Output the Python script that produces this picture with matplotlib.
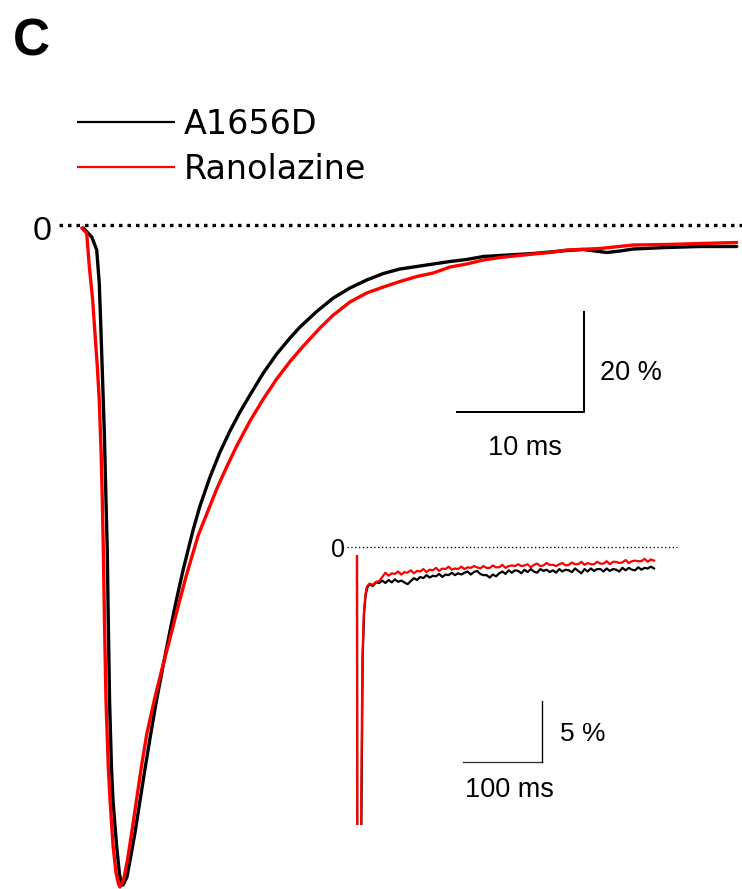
import numpy as np
import matplotlib
matplotlib.use("Agg")
import matplotlib.pyplot as plt

# --- main traces (time in ms from pulse start, current in %) ---
a1656d_t = [0.02, 0.69, 1.08, 1.28, 1.42, 1.55, 1.68, 1.81, 1.91, 1.99, 2.09,
            2.24, 2.36, 2.64, 2.87, 3.03, 3.15, 3.46, 3.78, 4.09, 4.88, 5.28,
            5.75, 6.32, 6.85, 7.32, 7.90, 8.69, 9.21, 10.0, 10.79,
            11.57, 12.36, 13.15, 14.20, 15.25, 16.30, 17.09, 18.40, 19.71,
            21.02, 22.34, 23.65, 24.96, 26.28, 27.58, 28.90, 30.21, 31.52,
            32.83, 35.46, 38.09, 39.37, 41.26, 42.28, 43.33, 45.96, 48.58,
            51.47]
a1656d_i = [-0.6, -2.4, -5.0, -11.6, -21.6, -31.6, -41.6, -55.0, -65.0,
            -79.0, -95.0, -108.4, -115.0, -124.0, -129.8, -131.6, -132.0,
            -130.4, -126.0, -121.6, -108.8, -102.6, -95.6, -88.0, -81.2,
            -75.4, -68.8, -60.8, -56.2, -50.4, -45.4, -41.2, -37.4, -34.0,
            -29.6, -25.8, -22.6, -20.4, -17.3, -14.6, -12.6, -11.0, -9.7,
            -8.8, -8.3, -7.8, -7.3, -6.9, -6.3, -6.1, -5.7, -5.1, -4.9,
            -5.5, -5.2, -4.8, -4.5, -4.3, -4.3]

rano_t = [-0.10, 0.29, 0.50, 0.76, 0.94, 1.13, 1.28, 1.42, 1.52, 1.60, 1.69,
          1.81, 1.99, 2.13, 2.36, 2.60, 2.80, 2.91, 3.19, 3.50, 3.83, 4.62,
          5.02, 5.67, 6.32, 6.98, 7.50, 8.17, 9.08, 10.53, 11.31, 12.10,
          13.15, 14.20, 15.25, 16.30, 17.35, 18.66, 19.71, 21.02, 22.34,
          23.65, 24.96, 26.28, 27.58, 28.90, 30.21, 31.52, 32.83, 35.46,
          36.77, 38.09, 40.71, 43.33, 45.96, 48.58, 51.47]
rano_i = [-0.6, -1.6, -8.4, -15.0, -21.6, -28.4, -35.0, -45.0, -55.0, -65.0,
          -79.0, -95.0, -108.4, -115.0, -124.0, -129.6, -131.8, -132.4,
          -131.0, -127.0, -121.6, -108.0, -101.8, -94.4, -87.8, -81.4, -76.2,
          -69.8, -62.0, -52.8, -48.4, -44.2, -39.2, -34.8, -30.8, -27.3,
          -24.2, -20.6, -18.0, -15.4, -13.6, -12.4, -11.3, -10.3, -9.6, -8.4,
          -7.8, -7.0, -6.5, -5.8, -5.5, -5.0, -4.7, -4.0, -3.9, -3.7, -3.5]

# --- inset (long time scale) ---
# fast spike part
ins_a_spike_t = [0.0, 1.6, 3.4, 5.4, 7.2, 9.0, 11.0, 13.0]
ins_a_spike_i = [-0.8, -132.0, -132.0, -24.0, -9.0, -5.5, -4.0, -3.4]
ins_r_spike_t = [0.0, 1.4, 3.0, 5.0, 6.8, 8.6, 10.5, 12.5]
ins_r_spike_i = [-0.8, -132.0, -132.0, -24.0, -9.5, -5.6, -4.0, -3.3]

# slow plateau, sampled every 4 ms starting at 16 ms
ins_t0, ins_dt = 16.0, 4.0
ins_a_plateau = [
    -3.10, -3.25, -2.95, -3.00, -2.80, -3.00, -2.75, -2.95, -2.70, -2.90,
    -2.80, -2.95, -3.10, -2.85, -2.60, -2.75, -2.50, -2.60, -2.35, -2.55,
    -2.40, -2.45, -2.25, -2.50, -2.30, -2.35, -2.15, -2.35, -2.20, -2.30,
    -2.15, -2.05, -2.30, -2.10, -2.00, -2.25, -2.35, -2.35, -2.55, -2.30,
    -2.45, -2.20, -2.05, -2.25, -1.95, -2.15, -1.95, -2.00, -2.20, -1.90,
    -2.10, -1.85, -2.05, -2.15, -1.85, -2.00, -1.90, -2.10, -1.95, -2.15,
    -1.85, -2.05, -1.90, -1.95, -2.10, -1.80, -2.00, -2.20, -1.85, -2.05,
    -1.80, -2.00, -1.85, -1.85, -2.05, -1.80, -2.00, -1.85, -1.90, -2.05,
    -1.75, -1.95, -1.75, -1.90, -1.95, -1.70, -1.90, -1.75, -1.80, -1.65,
    -1.80]
ins_r_plateau = [
    -3.05, -3.15, -2.90, -2.85, -2.50, -2.15, -2.40, -2.20, -2.25, -2.05,
    -2.30, -2.10, -2.15, -1.95, -2.20, -2.00, -2.05, -1.85, -2.10, -1.90,
    -1.95, -1.75, -2.00, -1.80, -1.85, -1.65, -1.90, -1.80, -1.85, -1.65,
    -1.85, -1.70, -1.75, -1.60, -1.70, -1.80, -1.60, -1.75, -1.75, -1.55,
    -1.70, -1.70, -1.50, -1.75, -1.60, -1.55, -1.60, -1.45, -1.60, -1.55,
    -1.45, -1.70, -1.50, -1.40, -1.60, -1.55, -1.35, -1.50, -1.50, -1.60,
    -1.45, -1.35, -1.55, -1.50, -1.30, -1.45, -1.45, -1.25, -1.50, -1.35,
    -1.45, -1.45, -1.25, -1.40, -1.40, -1.20, -1.45, -1.25, -1.25, -1.35,
    -1.30, -1.10, -1.35, -1.20, -1.15, -1.20, -1.20, -1.00, -1.25, -1.05,
    -1.15]

labels = ["A1656D", "Ranolazine"]
colors = ["black", "#ff0000"]

W, H = 742, 889
fig = plt.figure(figsize=(W / 100, H / 100), dpi=100)

# main axes spans whole figure, 1 ms = 12.7 px, 1 % = 5 px
ax = fig.add_axes([0, 0, 1, 1])
ax.set_xlim(-83 / 12.7, (W - 83) / 12.7)
ax.set_ylim((225 - H) / 5.0, 225 / 5.0)
ax.axis("off")

lw_main = 2.4
dot = (0, (1.05, 1.5))
ax.plot([-1.89, 52.0], [0, 0], color="black", lw=lw_main, linestyle=dot,
        dash_capstyle="butt")
ax.text(-2.45, -3.0, "0", fontsize=24.5, family="Liberation Sans",
        ha="right", va="baseline")

l1, = ax.plot(a1656d_t, a1656d_i, color=colors[0], lw=lw_main,
              solid_joinstyle="round", solid_capstyle="round")
l2, = ax.plot(rano_t, rano_i, color=colors[1], lw=lw_main,
              solid_joinstyle="round", solid_capstyle="round")

# scale bar: 10 ms / 20 %
ax.plot([29.43, 39.45, 39.45], [-37.3, -37.3, -17.3], color="black", lw=1.45)
ax.text(40.7, -31.0, "20 %", fontsize=19.5, family="Liberation Sans",
        ha="left", va="baseline")
ax.text(34.8, -46.0, "10 ms", fontsize=19.5, family="Liberation Sans",
        ha="center", va="baseline")

# legend
leg = fig.legend([l1, l2], labels, loc="upper left",
                 bbox_to_anchor=(77 / W, 1 - 108 / H), frameon=False,
                 prop={"family": "DejaVu Sans", "size": 24},
                 handlelength=2.95, handletextpad=0.25, labelspacing=0.36,
                 borderpad=0, borderaxespad=0)
for h in leg.legend_handles:
    h.set_linewidth(1.6)
    h.set_solid_capstyle("butt")

fig.text(13 / W, 1 - 55 / H, "C", fontsize=37, fontweight="bold",
         family="Liberation Sans", ha="left", va="baseline")

# inset: 1 ms = 0.79 px, 1 % = 12.1 px
ax2 = fig.add_axes([320 / W, 1 - 825 / H, 385 / W, 295 / H])
ax2.set_xlim((320 - 357) / 0.79, (705 - 357) / 0.79)
ax2.set_ylim(-(825 - 546.7) / 12.1, (546.7 - 530) / 12.1)
ax2.axis("off")

ins_t = ins_t0 + ins_dt * np.arange(len(ins_a_plateau))
ax2.plot([-12.7, 405], [0, 0], color="black", lw=0.95,
         linestyle=(0, (1.0, 1.9)), dash_capstyle="butt")
ax2.text(-15.2, -0.85, "0", fontsize=18, family="Liberation Sans",
         ha="right", va="baseline")
ax2.plot(list(ins_a_spike_t) + list(ins_t),
         list(ins_a_spike_i) + list(ins_a_plateau), color=colors[0], lw=1.6)
ax2.plot(list(ins_r_spike_t) + list(ins_t),
         list(ins_r_spike_i) + list(ins_r_plateau), color=colors[1], lw=1.6)

# inset scale bar: 100 ms / 5 %
ax2.plot([134.6, 234.6], [-17.77, -17.77], color="#333333", lw=0.95)
ax2.plot([234.6, 234.6], [-17.77, -12.75], color="black", lw=0.95)
ax2.text(256.9, -16.06, "5 %", fontsize=19, family="Liberation Sans",
         ha="left", va="baseline")
ax2.text(136.7, -20.7, "100 ms", fontsize=19.5, family="Liberation Sans",
         ha="left", va="baseline")

fig.savefig("out.png", dpi=100)
